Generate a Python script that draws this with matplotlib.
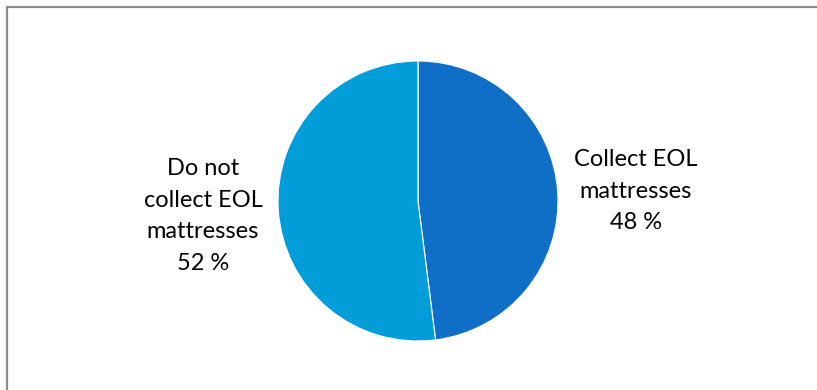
import matplotlib
matplotlib.use("Agg")
import matplotlib.pyplot as plt
from matplotlib.patches import Rectangle

categories = ["Collect EOL\nmattresses", "Do not\ncollect EOL\nmattresses"]
shares = [48, 52]
colors = ["#0F6FC6", "#009DD9"]

W, H = 817, 390
fig = plt.figure(figsize=(W / 100, H / 100), dpi=100)
ax = fig.add_axes([0, 0, 1, 1])
ax.set_xlim(0, W)
ax.set_ylim(0, H)
ax.set_aspect("equal")
ax.axis("off")

# chart frame (right and bottom edges run off the canvas)
ax.add_patch(Rectangle((7.5, -20), W + 40, H - 6.5 + 20, fill=False,
                       edgecolor="#8C8C8C", linewidth=1.6))

cx, cy, r = 418, H - 201, 140
ax.pie(shares, colors=colors, startangle=90, counterclock=False,
       center=(cx, cy), radius=r, frame=True,
       wedgeprops=dict(edgecolor="white", linewidth=0.8))
ax.set_xlim(0, W)
ax.set_ylim(0, H)
ax.axis("off")

font = dict(family="Lato", fontsize=17, color="#000000",
            ha="center", va="center", linespacing=1.63)
ax.text(636, H - 191, f"{categories[0]}\n{shares[0]} %", **font)
ax.text(203, H - 216, f"{categories[1]}\n{shares[1]} %", **font)

fig.savefig("out.png", dpi=100)
